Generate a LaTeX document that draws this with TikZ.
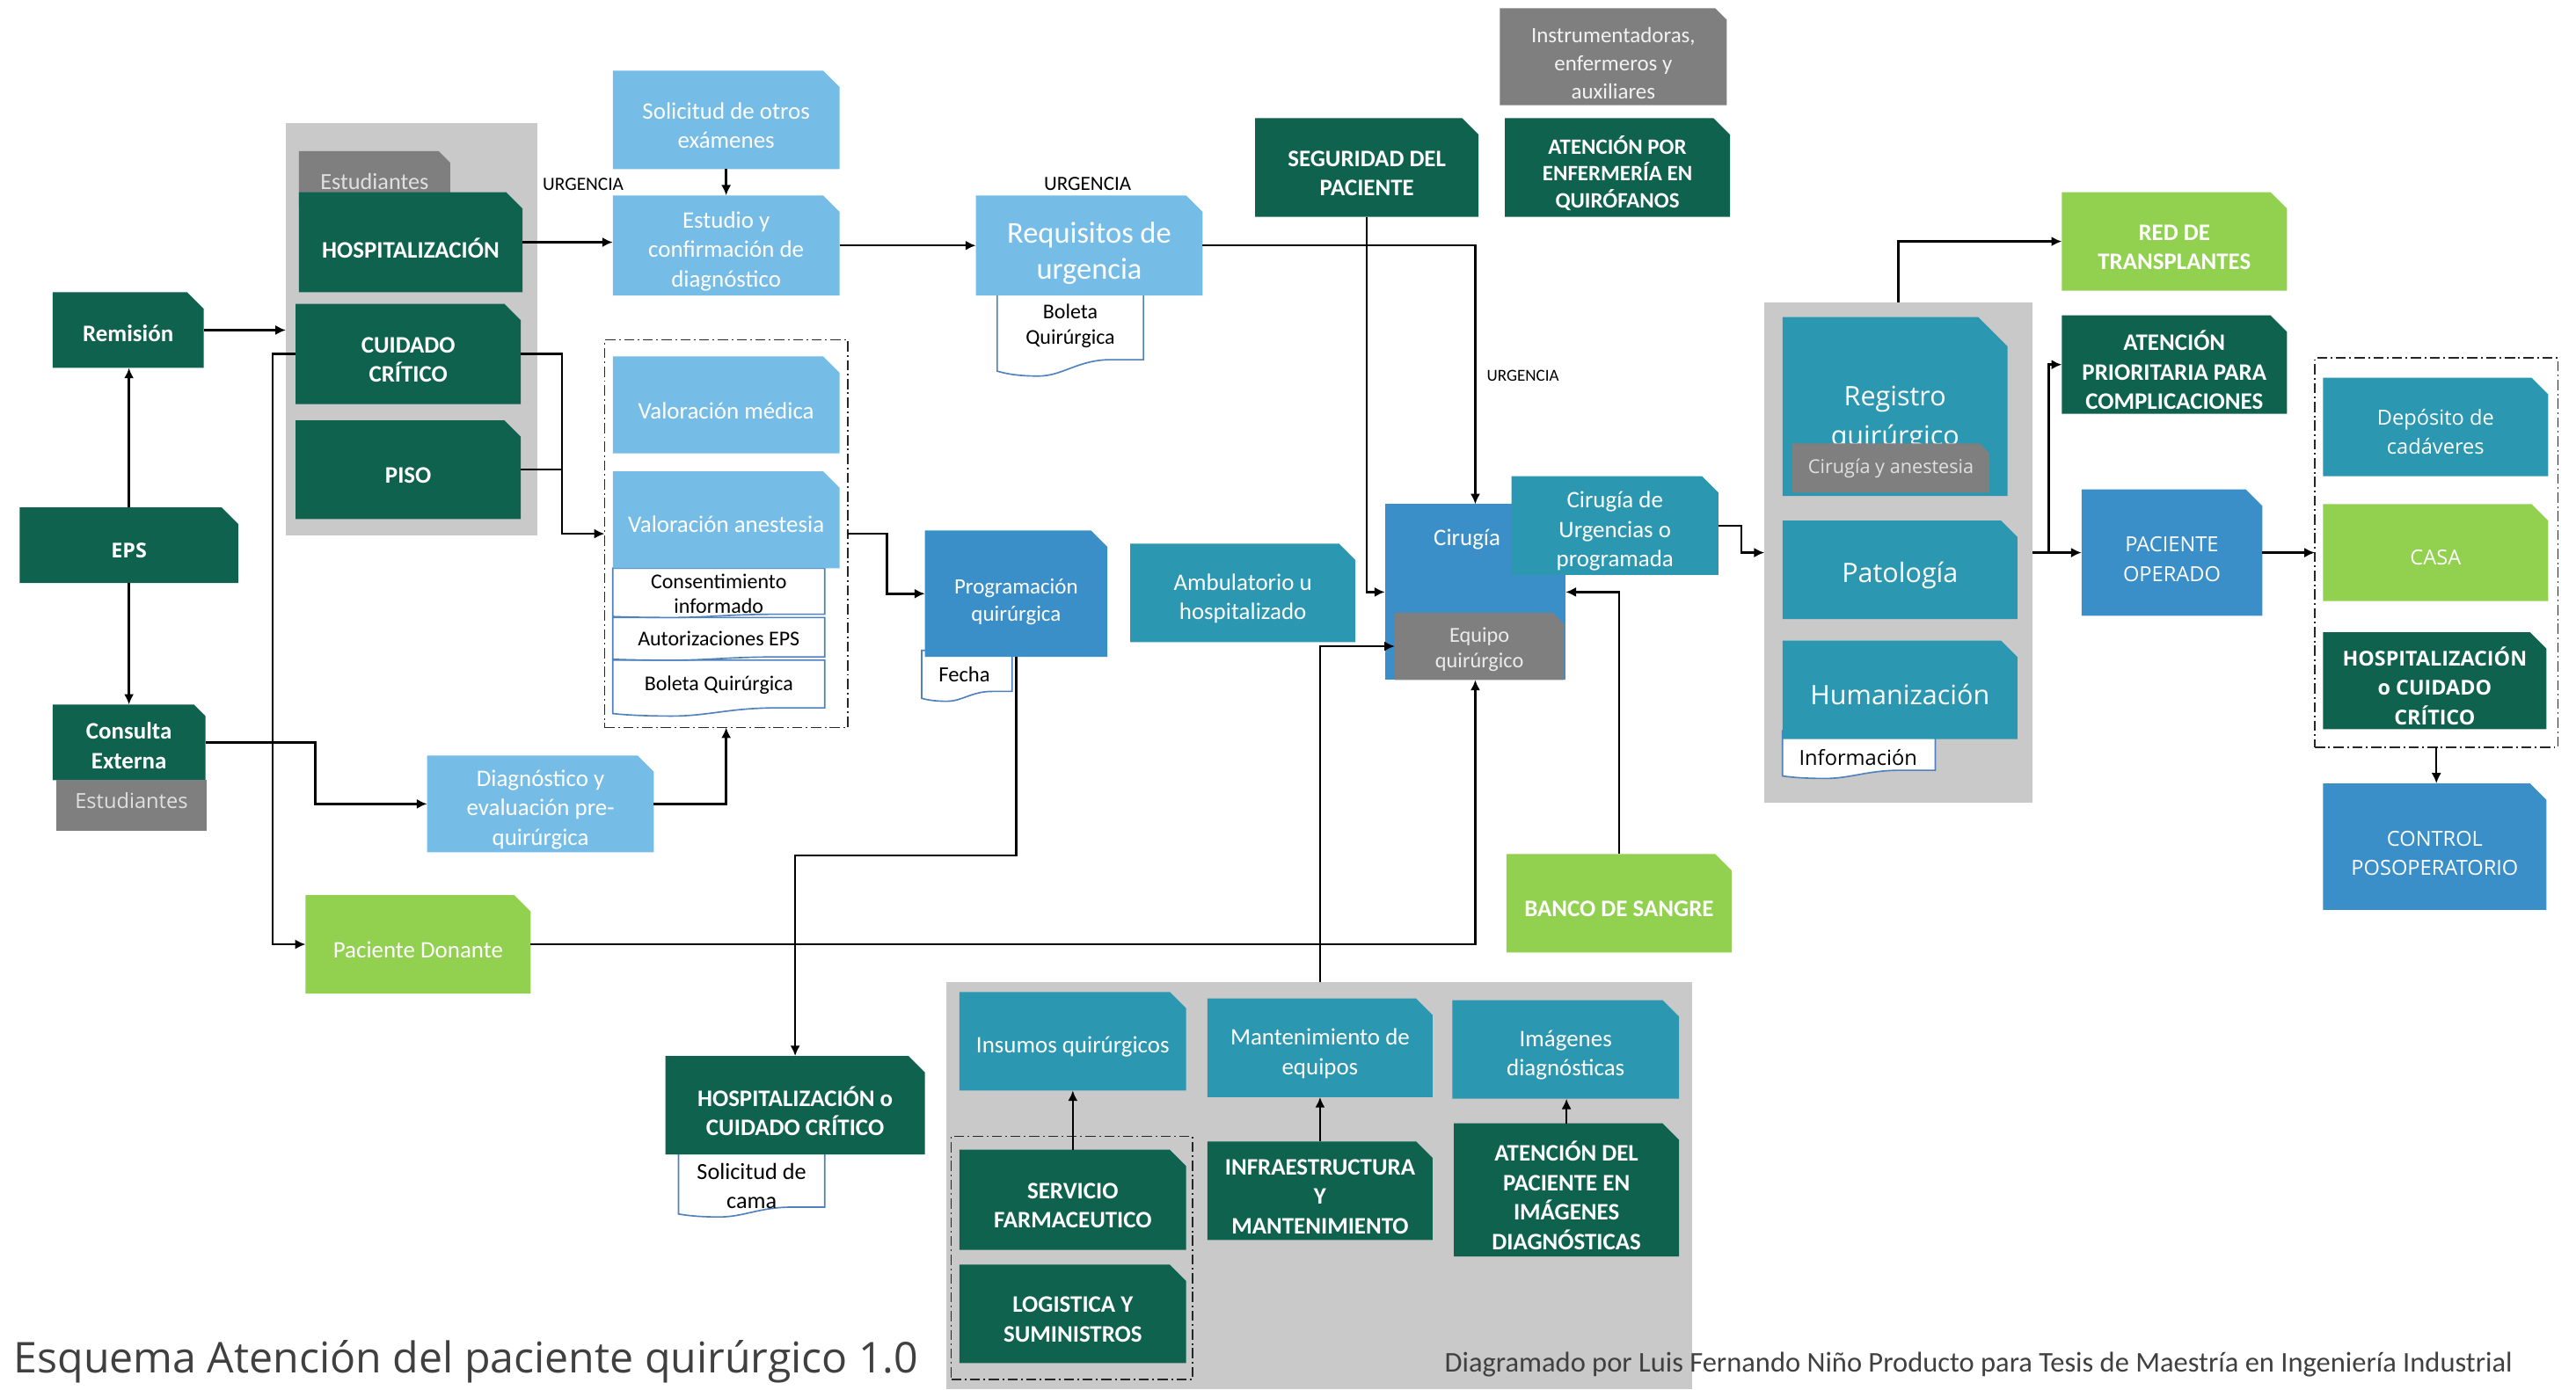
\documentclass[tikz,border=0pt]{standalone}
\usepackage{fontspec}
\setmainfont{Carlito}
\newfontfamily\osans{Open Sans}
\usetikzlibrary{arrows.meta}

\definecolor{dgreen}{RGB}{15,98,78}
\definecolor{lblue}{RGB}{117,189,230}
\definecolor{mblue}{RGB}{58,143,200}
\definecolor{tealbox}{RGB}{43,151,177}
\definecolor{lgreen}{RGB}{146,208,80}
\definecolor{tabgray}{RGB}{127,127,127}
\definecolor{contgray}{RGB}{201,201,201}
\definecolor{docblue}{RGB}{79,129,189}
\definecolor{inkgray}{RGB}{64,64,64}

\newdimen\pxu \pxu=0.2mm
\newcommand\fsz[2]{\fontsize{#1pt}{#2pt}\selectfont}

% box given by its corners: [text drop], name, style, x1, y1, x2, y2, text
\newcommand\mkbox[8][3.5]{%
  \pgfmathsetmacro\bxw{(#6-#4)*0.2}%
  \pgfmathsetmacro\bxh{(#7-#5)*0.2}%
  \node[inner sep=0pt, outer sep=0pt, minimum width=\bxw mm, minimum height=\bxh mm, #3]
    (#2) at ({(#4+#6)/2},{(#5+#7)/2}) {};
  \node[#3, path picture={}, fill=none, draw=none, minimum width=0pt, minimum height=0pt,
        inner sep=0pt, outer sep=0pt, align=center]
    (#2-t) at ({(#4+#6)/2},{(#5+#7)/2+#1}) {#8};}

% document sheet with a wavy lower edge: x1, y1, x2, y2, wave depth
\newcommand\docshape[5]{%
  \filldraw[docline] (#1,#2) -- (#3,#2) -- (#3,{#4-#5})
    -- ({#1+0.78*(#3-#1)},{#4-#5})
    .. controls ({#1+0.55*(#3-#1)},{#4-#5}) and ({#1+0.45*(#3-#1)},#4) .. ({#1+0.28*(#3-#1)},#4)
    .. controls ({#1+0.12*(#3-#1)},#4) and ({#1+0.04*(#3-#1)},{#4-0.2*#5}) .. (#1,{#4-0.3*#5}) -- cycle;}

\tikzset{
  snip/.style 2 args={path picture={\fill[#1]
      (path picture bounding box.south west) -- (path picture bounding box.south east)
      -- ([yshift=-#2*\pxu]path picture bounding box.north east)
      -- ([xshift=-#2*\pxu]path picture bounding box.north east)
      -- (path picture bounding box.north west) -- cycle;}},
  dgbox/.style={snip={dgreen}{10}, text=white, font=\bfseries\fsz{8.2}{10.2}},
  lbbox/.style={snip={lblue}{10}, text=white, font=\fsz{8.2}{10.2}},
  mbbox/.style={snip={mblue}{10}, text=white, font=\fsz{8.2}{10.2}},
  tlbox/.style={snip={tealbox}{10}, text=white, font=\fsz{8.2}{10.2}},
  lgbox/.style={snip={lgreen}{10}, text=white, font=\fsz{8.2}{10.2}},
  tabbox/.style={snip={tabgray}{7}, text=white!88!black, font=\fsz{8}{9.4}},
  contbox/.style={fill=contgray},
  dashbox/.style={draw=black!85, line width=0.5pt, dash pattern=on 3.5pt off 1.2pt on 0.6pt off 1.2pt},
  docline/.style={draw=docblue, fill=white, line width=0.5pt},
  doctext/.style={text=black, font=\fsz{7.3}{9}, align=center, inner sep=0pt},
  osfont/.style={font=\osans\fsz{7.2}{10.2}},
  osbold/.style={font=\osans\bfseries\fsz{7.1}{10.2}},
  arr/.style={draw=black, line width=0.75pt, -{Latex[length=3.6pt,width=3.4pt]}},
  link/.style={draw=black, line width=0.75pt},
  urg/.style={text=black, inner sep=0pt},
}

\begin{document}
\begin{tikzpicture}[x=0.2mm, y=-0.2mm]
\fill[white] (0,0) rectangle (1568,846);
\useasboundingbox (0,0) rectangle (1568,846);

% grey groupings
\mkbox{cont1}{contbox}{174}{75}{327}{326}{}
\mkbox{cont2}{contbox}{1074}{184}{1237}{489}{}
\mkbox{cont3}{contbox}{576}{598}{1030}{846}{}
\mkbox{dsel}{dashbox}{368}{207}{516}{443}{}
\mkbox{dout}{dashbox}{1409}{218}{1557}{455}{}
\mkbox{dlog}{dashbox}{579}{692}{726}{840}{}

% documents
\docshape{607}{175}{696}{229}{10}
\node[doctext] (bolreq) at (651.5,198.5) {Boleta\\Quirúrgica};
\docshape{373}{402}{502}{436}{5}
\docshape{373}{376}{502}{402}{2}
\docshape{373}{346}{502}{376}{2}
\node[doctext, font=\fsz{7.3}{8.6}] (consent) at (437.5,361.5) {Consentimiento\\informado};
\node[doctext] (autor) at (437.5,389) {Autorizaciones EPS};
\node[doctext] (bolsel) at (437.5,417) {Boleta Quirúrgica};
\docshape{561}{396}{616}{427}{6}
\node[doctext, font=\fsz{7.5}{9}] (fecha) at (587,410.5) {Fecha};
\docshape{413}{700}{502}{741}{6}
\node[doctext, font=\fsz{8}{10}] (cama) at (457.5,722) {Solicitud de\\cama};
\docshape{1085}{445}{1178}{474}{5}
\node[doctext, font=\osans\fsz{7.2}{9}] (info) at (1131,461) {Información};

% left column
\mkbox[2]{rem}{dgbox}{32}{178}{124}{224}{Remisión}
\mkbox[3]{eps}{dgbox, osbold}{12}{309}{145}{355}{EPS}
\mkbox[2]{cons}{dgbox, snip={dgreen}{7}}{32}{429}{125}{475}{Consulta\\Externa}
\mkbox[-3]{consest}{fill=tabgray, text=white!88!black, font=\osans\fsz{7.2}{9}}{34}{475}{126}{506}{Estudiantes}

\mkbox[1]{esttab}{tabbox}{182}{92}{274}{127}{Estudiantes}
\mkbox{hosp}{dgbox}{182}{117}{318}{178}{HOSPITALIZACIÓN}
\mkbox{cuid}{dgbox}{180}{185}{317}{246}{CUIDADO\\CRÍTICO}
\mkbox{piso}{dgbox}{180}{256}{317}{316}{PISO}

\mkbox{diag}{lbbox}{260}{460}{398}{519}{Diagnóstico y\\evaluación pre-\\quirúrgica}
\mkbox{don}{lgbox}{186}{545}{323}{605}{Paciente Donante}
\mkbox{hcc}{dgbox}{405}{643}{563}{703}{HOSPITALIZACIÓN o\\CUIDADO CRÍTICO}

% diagnosis and requirements
\mkbox{sol}{lbbox}{373}{43}{511}{103}{Solicitud de otros\\exámenes}
\mkbox{estudio}{lbbox}{373}{119}{511}{180}{Estudio y\\confirmación de\\diagnóstico}
\mkbox[4.5]{req}{lbbox, font=\fsz{10.5}{12.5}}{594}{119}{732}{180}{Requisitos de\\urgencia}
\mkbox{valmed}{lbbox}{373}{217}{511}{276}{Valoración médica}
\mkbox[2.5]{valan}{lbbox}{373}{287}{511}{346}{Valoración anestesia}
\mkbox[5]{prog}{mbbox, font=\fsz{7.6}{9.7}}{563}{323}{674}{400}{Programación\\quirúrgica}

% surgery
\mkbox{seg}{dgbox}{764}{72}{900}{132}{SEGURIDAD DEL\\PACIENTE}
\mkbox[4]{instr}{tabbox, text=white!95!black, font=\fsz{7.6}{9.7}}{913}{5}{1051}{64}{Instrumentadoras,\\enfermeros y\\auxiliares}
\mkbox{atenf}{dgbox, font=\bfseries\fsz{7.6}{9.4}}{916}{72}{1053}{132}{ATENCIÓN POR\\ENFERMERÍA EN\\QUIRÓFANOS}
\mkbox{amb}{tlbox}{688}{331}{825}{391}{Ambulatorio u\\hospitalizado}
\mkbox{cir}{fill=mblue}{843}{307}{953}{414}{}
\node[text=white, font=\fsz{8.2}{10.2}, inner sep=0pt] (cirlbl) at (893,328.5) {Cirugía};
\mkbox{cirurg}{tlbox}{920}{290}{1046}{350}{Cirugía de\\Urgencias o\\programada}
\mkbox[2]{equipo}{tabbox, font=\fsz{7.4}{9.1}, text=white!92!black}{849}{373}{952}{414}{Equipo\\quirúrgico}
\mkbox{banco}{lgbox, font=\bfseries\fsz{8.2}{10.2}}{917}{520}{1054}{580}{BANCO DE SANGRE}

% support services
\mkbox{ins}{tlbox}{584}{604}{722}{664}{Insumos quirúrgicos}
\mkbox{mant}{tlbox}{735}{608}{872}{668}{Mantenimiento de\\equipos}
\mkbox{img}{tlbox}{884}{609}{1022}{669}{Imágenes\\diagnósticas}
\mkbox{serv}{dgbox}{584}{700}{722}{761}{SERVICIO\\FARMACEUTICO}
\mkbox{logi}{dgbox}{584}{770}{722}{830}{LOGISTICA Y\\SUMINISTROS}
\mkbox{infra}{dgbox}{735}{695}{872}{755}{INFRAESTRUCTURA\\Y\\MANTENIMIENTO}
\mkbox{atimg}{dgbox}{885}{684}{1022}{765}{ATENCIÓN DEL\\PACIENTE EN\\IMÁGENES\\DIAGNÓSTICAS}

% records
\mkbox{regq}{tlbox, snip={tealbox}{18}}{1085}{193}{1222}{302}{}
\node[text=white, font=\osans\fsz{9.3}{13.7}, align=center, inner sep=0pt] (regqt) at (1153.5,255) {Registro\\quirúrgico};
\mkbox[0]{tabca}{tabbox, snip={tabgray}{6}, font=\osans\fsz{6.6}{8}}{1091}{270}{1211}{300}{Cirugía y anestesia}
\mkbox{pat}{tlbox, font=\osans\fsz{9.3}{12}}{1085}{317}{1228}{377}{Patología}
\mkbox[3]{hum}{tlbox, font=\osans\fsz{9.3}{12}}{1085}{390}{1228}{450}{Humanización}

% outcome
\mkbox{red}{lgbox, font=\bfseries\fsz{8.2}{10.2}}{1255}{117}{1392}{177}{RED DE\\TRANSPLANTES}
\mkbox{aten}{dgbox}{1255}{192}{1392}{252}{ATENCIÓN\\PRIORITARIA PARA\\COMPLICACIONES}
\mkbox[4]{pop}{mbbox, osfont}{1267}{298}{1377}{375}{PACIENTE\\OPERADO}
\mkbox[3]{dep}{tlbox, osfont}{1414}{230}{1551}{290}{Depósito de\\cadáveres}
\mkbox[3]{casa}{lgbox, osfont}{1414}{307}{1551}{366}{CASA}
\mkbox[3]{hcc2}{dgbox, osbold}{1414}{385}{1550}{444}{HOSPITALIZACIÓN\\o CUIDADO\\CRÍTICO}
\mkbox[4]{ctrl}{mbbox, osfont}{1414}{477}{1550}{554}{CONTROL\\POSOPERATORIO}

% connectors
\draw[arr] (eps.north) -- (eps.north |- rem.south);
\draw[arr] (eps.south) -- (eps.south |- cons.north);
\draw[arr] (rem.east) -- (rem.east -| cont1.west);
\draw[arr] (cuid.west) -- ++(-14,0) |- (don.west);
\draw[arr] (hosp.east) -- (hosp.east -| estudio.west);
\draw[arr] (cuid.east) -- ++(25,0) coordinate (jv) |- (dsel.west);
\draw[link] (piso.east) -- (piso.east -| jv);
\draw[arr] (sol.south) -- (estudio.north);
\draw[arr] (estudio.east) -- (estudio.east -| req.west);
\draw[arr] (req.east) -| (cir.north);
\draw[arr] (seg.south) |- (cir.west);
\draw[arr] (dsel.east) -- ++(24,0) |- (prog.west);
\draw[arr] (prog.south) -- ++(0,121) -| (hcc.north);
\draw[arr] (cons.east) -- ++(67,0) |- (diag.west);
\draw[arr] (diag.east) -| (dsel.south);
\draw[arr] (don.east) -| (cir.south);
\draw[arr] (mant.north |- cont3.north) |- (equipo.west);
\draw[arr] (banco.north) |- (cir.east);
\draw[arr] (cirurg.east) -- ++(14,0) |- (cont2.west);
\draw[arr] (cont2.north) |- (red.west);
\draw[arr] (cont2.east) -- (cont2.east -| pop.west);
\draw[arr] (cont2.east) ++(10,0) |- (aten.west);
\draw[arr] (pop.east) -- (pop.east -| dout.west);
\draw[arr] (dout.south) -- (dout.south |- ctrl.north);
\draw[arr] (serv.north) -- (serv.north |- ins.south);
\draw[arr] (infra.north) -- (infra.north |- mant.south);
\draw[arr] (atimg.north) -- (atimg.north |- img.south);

% route labels
\node[urg, font=\fsz{6.5}{8}] (urg1) at (355,112) {URGENCIA};
\node[urg, font=\fsz{7}{8}] (urg2) at (662,112) {URGENCIA};
\node[urg, font=\fsz{5.8}{7}] (urg3) at (927,229) {URGENCIA};

% title and credit
\node[anchor=west, inner sep=0pt, text=inkgray, font=\osans\fsz{14.7}{17}] (title) at (8,829) {Esquema Atención del paciente quirúrgico 1.0};
\node[anchor=west, inner sep=0pt, text=inkgray, font=\fsz{9.9}{11}] (credit) at (879,831) {Diagramado por Luis Fernando Niño Producto para Tesis de Maestría en Ingeniería Industrial};
\end{tikzpicture}
\end{document}
